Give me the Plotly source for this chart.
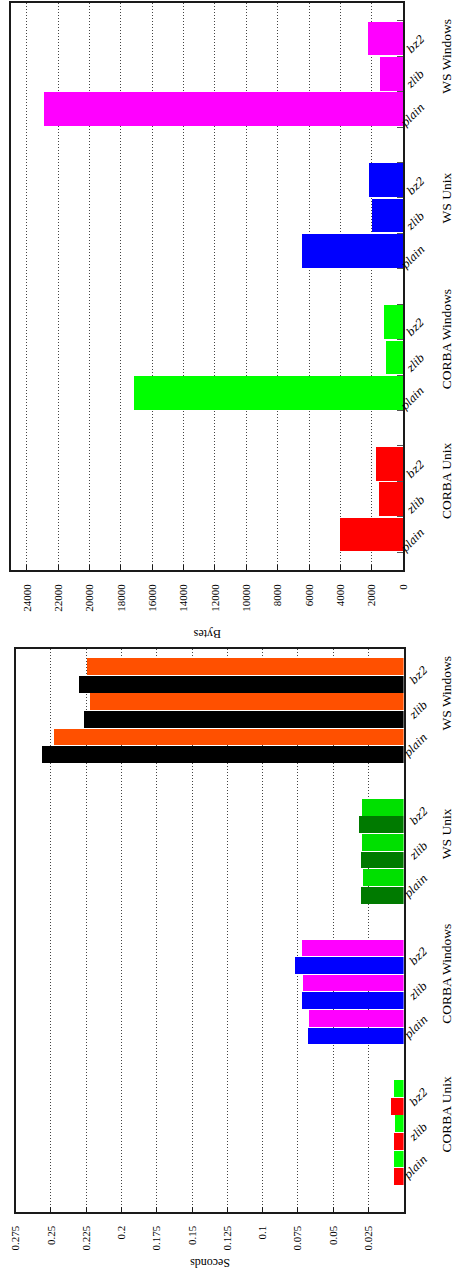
import plotly.graph_objects as go

# ---------------- data ----------------
groups = ["CORBA Unix", "CORBA Windows", "WS Unix", "WS Windows"]
subs = ["plain", "zlib", "bz2"]

# Bytes (one series per group)
bytes_corba_unix = [4020, 1530, 1720]
bytes_corba_windows = [17170, 1090, 1210]
bytes_ws_unix = [6450, 2000, 2170]
bytes_ws_windows = [22900, 1470, 2250]
bytes_colors = ["#ff0000", "#00ff00", "#0000ff", "#ff00ff"]

# Seconds (two series per group: A lower bar, B upper bar of each pair)
sec_a_corba_unix = [0.0073, 0.0073, 0.0089]
sec_b_corba_unix = [0.0068, 0.0066, 0.0068]
sec_a_corba_windows = [0.0678, 0.0720, 0.0770]
sec_b_corba_windows = [0.0671, 0.0713, 0.0720]
sec_a_ws_unix = [0.0302, 0.0302, 0.0316]
sec_b_ws_unix = [0.0288, 0.0295, 0.0295]
sec_a_ws_windows = [0.2564, 0.2266, 0.2301]
sec_b_ws_windows = [0.2479, 0.2223, 0.2245]
sec_colors_a = ["#ff0000", "#0000ff", "#007a00", "#000000"]
sec_colors_b = ["#00ff00", "#ff00ff", "#00e000", "#ff5000"]

bytes_ticks = [0, 2000, 4000, 6000, 8000, 10000, 12000, 14000, 16000,
               18000, 20000, 22000, 24000]
sec_ticks = [0.025, 0.05, 0.075, 0.1, 0.125, 0.15, 0.175, 0.2, 0.225,
             0.25, 0.275]
sec_tick_text = ["0.025", "0.05", "0.075", "0.1", "0.125", "0.15", "0.175",
                 "0.2", "0.225", "0.25", "0.275"]

# ---------------- figure ----------------
W, H = 461, 1281
FONT = "Liberation Serif"
LFONT = "DejaVu Serif"
fig = go.Figure()

bytes_series = [bytes_corba_unix, bytes_corba_windows, bytes_ws_unix, bytes_ws_windows]
bx, by, bc = [], [], []
for gi, vals in enumerate(bytes_series):
    for si, v in enumerate(vals):
        bx.append(v)
        by.append(gi * 4 + si + 1)
        bc.append(bytes_colors[gi])
fig.add_trace(go.Bar(x=bx, y=by, orientation="h", width=0.95,
                     marker=dict(color=bc, line=dict(width=0)),
                     xaxis="x", yaxis="y", showlegend=False))

sec_a = [sec_a_corba_unix, sec_a_corba_windows, sec_a_ws_unix, sec_a_ws_windows]
sec_b = [sec_b_corba_unix, sec_b_corba_windows, sec_b_ws_unix, sec_b_ws_windows]
sx, sy, sc = [], [], []
for gi in range(4):
    for si in range(3):
        sx.append(sec_a[gi][si]); sy.append(gi * 8 + si * 2); sc.append(sec_colors_a[gi])
        sx.append(sec_b[gi][si]); sy.append(gi * 8 + si * 2 + 1); sc.append(sec_colors_b[gi])
fig.add_trace(go.Bar(x=sx, y=sy, orientation="h", width=0.95,
                     marker=dict(color=sc, line=dict(width=0)),
                     xaxis="x2", yaxis="y2", showlegend=False))

def px(v):
    return v / W

def py(v):
    return 1 - v / H

axis_common = dict(showline=True, linecolor="#1a1a1a", linewidth=1.5, mirror=True,
                   zeroline=False, automargin=False)

fig.update_layout(
    width=W, height=H, margin=dict(l=0, r=0, t=0, b=0, autoexpand=False),
    paper_bgcolor="white", plot_bgcolor="white", bargap=0,
    font=dict(family=FONT, color="black", size=11),
    xaxis=dict(domain=[px(11), px(403)], anchor="y", range=[25020, 0],
               tickvals=bytes_ticks, ticktext=[str(t) for t in bytes_ticks],
               tickangle=-90, ticks="inside", ticklen=5, tickcolor="#1a1a1a",
               ticklabelstandoff=8,
               showgrid=True, gridcolor="#444444", griddash="1px,2px", gridwidth=1,
               tickfont=dict(family=FONT, size=11), **axis_common),
    yaxis=dict(domain=[py(570), py(3)], anchor="x", range=[0, 16],
               tickvals=[k + 0.5 for k in range(16)], ticks="inside", ticklen=6,
               tickcolor="#555555", side="right",
               showticklabels=False, showgrid=False, **axis_common),
    xaxis2=dict(domain=[px(15.7), px(403.6)], anchor="y2", range=[0.275, 0],
                tickvals=sec_ticks, ticktext=sec_tick_text,
                tickangle=-90, ticks="inside", ticklen=5, tickcolor="#1a1a1a",
                ticklabelstandoff=8,
                showgrid=True, gridcolor="#444444", griddash="1px,2px", gridwidth=1,
                tickfont=dict(family=FONT, size=11), **axis_common),
    yaxis2=dict(domain=[py(1211.7), py(649)], anchor="x2", range=[-2, 30],
                showticklabels=False, ticks="", showgrid=False, **axis_common),
)

ann = []
# axis titles (upside down)
ann.append(dict(text="Bytes", x=px(207), y=py(634), xref="paper", yref="paper",
                showarrow=False, textangle=180, font=dict(family=FONT, size=12)))
ann.append(dict(text="Seconds", x=px(210), y=py(1272), xref="paper", yref="paper",
                showarrow=False, textangle=180, font=dict(family=FONT, size=12)))

for gi, g in enumerate(groups):
    # group labels
    ann.append(dict(text=g, x=px(456), xref="paper", y=gi * 4 + 2.5, yref="y",
                    showarrow=False, textangle=-90, font=dict(family=FONT, size=13.5)))
    ann.append(dict(text=g, x=px(456), xref="paper", y=gi * 8 + 3.5, yref="y2",
                    showarrow=False, textangle=-90, font=dict(family=FONT, size=13.5)))
    for si, s in enumerate(subs):
        ann.append(dict(text="<i>" + s + "</i>", x=px(430), xref="paper",
                        y=gi * 4 + si + 1, yref="y", yshift=-6,
                        showarrow=False, textangle=-45,
                        font=dict(family=LFONT, size=11)))
        ann.append(dict(text="<i>" + s + "</i>", x=px(433), xref="paper",
                        y=gi * 8 + si * 2 + 0.5, yref="y2",
                        showarrow=False, textangle=-45,
                        font=dict(family=LFONT, size=11)))
fig.update_layout(annotations=ann)

fig.write_html("out.html", config={"displayModeBar": False},
               post_script="document.body.style.margin='0px';"
                           "document.body.style.overflow='hidden';")
